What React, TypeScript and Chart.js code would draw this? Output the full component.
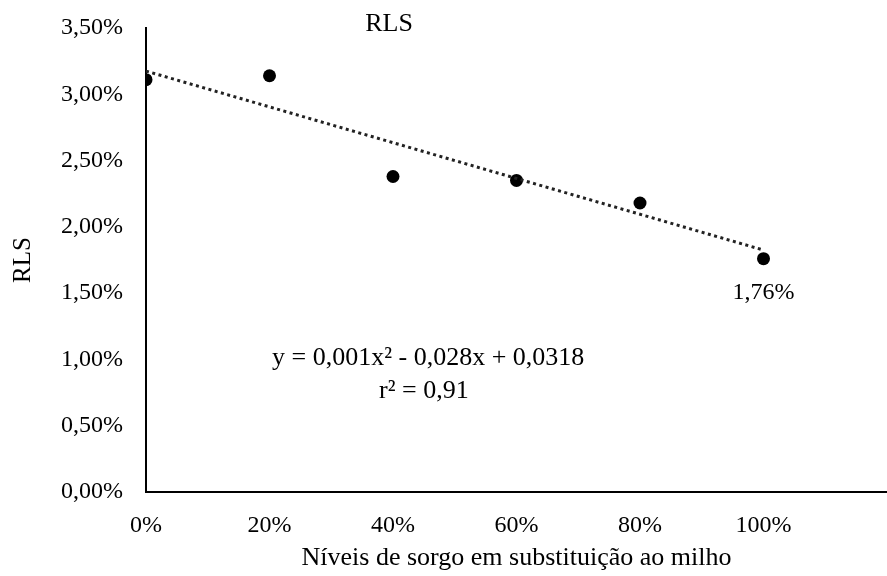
import React, { useEffect, useRef } from "react";
import { Chart, registerables } from "chart.js";

Chart.register(...registerables);

// ---- data ----
const levels = [0, 20, 40, 60, 80, 100]; // % sorgo
const rlsValues = [3.11, 3.14, 2.38, 2.35, 2.18, 1.76]; // RLS %
const trendLevels = [0, 100];
const trendValues = [3.175, 1.825];
const yTicksMax = 3.5;
const yStep = 0.5;
const xMax = 120;
const xStep = 20;
const chartTitle = "RLS";
const yTitle = "RLS";
const xTitle = "Níveis de sorgo em substituição ao milho";
const equationLines = ["y = 0,001x² - 0,028x + 0,0318", "r² = 0,91"];
const lastLabel = "1,76%";

const FONT = "'Liberation Serif', 'Times New Roman', serif";

const fmtPct = (v: number) => v.toFixed(2).replace(".", ",") + "%";

const annotationPlugin = {
  id: "annots",
  afterDraw(chart: any) {
    const { ctx, chartArea, scales } = chart;
    const xs = scales.x;
    const ys = scales.y;
    ctx.save();
    ctx.fillStyle = "#000";
    ctx.textAlign = "center";
    ctx.textBaseline = "middle";
    // title
    ctx.font = `26px ${FONT}`;
    ctx.fillText(chartTitle, chartArea.left + chartArea.width * 0.328, chartArea.top - 4);
    // equation
    ctx.font = `26px ${FONT}`;
    ctx.fillText(equationLines[0], xs.getPixelForValue(45.7), ys.getPixelForValue(1.01));
    ctx.fillText(equationLines[1], xs.getPixelForValue(45.0), ys.getPixelForValue(0.76));
    // last point label
    const meta = chart.getDatasetMeta(0);
    const el = meta.data[meta.data.length - 1];
    if (el) {
      ctx.font = `24px ${FONT}`;
      ctx.fillText(lastLabel, el.x, el.y + 34);
    }
    ctx.restore();
  },
};

export default function App() {
  const ref = useRef<HTMLCanvasElement | null>(null);

  useEffect(() => {
    if (!ref.current) return;
    const chart = new Chart(ref.current, {
      type: "scatter",
      data: {
        datasets: [
          {
            type: "scatter",
            label: "RLS",
            data: levels.map((x, i) => ({ x, y: rlsValues[i] })),
            backgroundColor: "#000",
            borderWidth: 0,
            pointRadius: 6.5,
            order: 2,
          },
          {
            type: "line",
            label: "Tendência",
            data: trendLevels.map((x, i) => ({ x, y: trendValues[i] })),
            borderColor: "#222",
            borderWidth: 3,
            borderDash: [3, 3.5],
            pointRadius: 0,
            fill: false,
            order: 1,
          } as any,
        ],
      },
      options: {
        animation: false,
        responsive: false,
        devicePixelRatio: 1,
        layout: { autoPadding: false, padding: { top: 28, left: 0, right: 0, bottom: 0 } },
        plugins: {
          legend: { display: false },
          tooltip: { enabled: false },
          title: { display: false },
        },
        scales: {
          x: {
            type: "linear",
            min: 0,
            max: xMax,
            grid: { display: false },
            border: { display: true, color: "#000", width: 2 },
            ticks: {
              stepSize: xStep,
              padding: 11,
              maxRotation: 0,
              color: "#000",
              font: { family: FONT, size: 24 },
              callback: (v: any) => (Number(v) <= 100 ? `${v}%` : ""),
            },
            title: {
              display: true,
              text: xTitle,
              color: "#000",
              font: { family: FONT, size: 26 },
              padding: { top: 0, bottom: 2 },
            },
            afterFit: (s: any) => {
              s.height = 84;
              s.paddingLeft = 0;
              s.paddingRight = 0;
            },
          },
          y: {
            type: "linear",
            min: 0,
            max: yTicksMax,
            grid: { display: false },
            border: { display: true, color: "#000", width: 2 },
            ticks: {
              stepSize: yStep,
              padding: 15,
              color: "#000",
              font: { family: FONT, size: 24 },
              callback: (v: any) => fmtPct(Number(v)),
            },
            title: {
              display: true,
              text: yTitle,
              color: "#000",
              font: { family: FONT, size: 25 },
              padding: { top: 8, bottom: 0 },
            },
            afterFit: (s: any) => {
              s.width = 146;
              s.paddingTop = 0;
              s.paddingBottom = 0;
            },
          },
        },
      },
      plugins: [annotationPlugin],
    });
    return () => chart.destroy();
  }, []);

  return (
    <div style={{ position: "absolute", left: 0, top: 0, width: 887, height: 576, background: "#fff" }}>
      <canvas ref={ref} width={887} height={576} style={{ width: 887, height: 576, display: "block" }} />
    </div>
  );
}
